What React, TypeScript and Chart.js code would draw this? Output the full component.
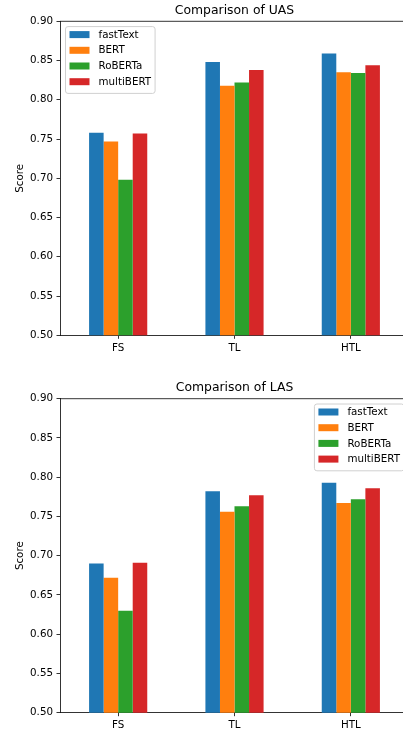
import React, { useEffect, useRef } from "react";
import { Chart, registerables } from "chart.js";

Chart.register(...registerables);

const categories = ["FS", "TL", "HTL"];
const models = ["fastText", "BERT", "RoBERTa", "multiBERT"];
const colors = ["#1f77b4", "#ff7f0e", "#2ca02c", "#d62728"];

const uasFastText = [0.758, 0.848, 0.859];
const uasBERT = [0.747, 0.818, 0.835];
const uasRoBERTa = [0.698, 0.822, 0.834];
const uasMultiBERT = [0.757, 0.838, 0.844];

const lasFastText = [0.69, 0.782, 0.793];
const lasBERT = [0.672, 0.756, 0.767];
const lasRoBERTa = [0.63, 0.763, 0.772];
const lasMultiBERT = [0.691, 0.777, 0.786];

const yTicks = [0.5, 0.55, 0.6, 0.65, 0.7, 0.75, 0.8, 0.85, 0.9];

const FONT = '"DejaVu Sans", "Liberation Sans", sans-serif';
const TICK_SIZE = 10.3;
const TITLE_SIZE = 12.4;

type Cfg = {
  title: string;
  series: number[][];
  legendSide: "left" | "right";
  padTop: number;
  xHeight: number;
  height: number;
};

function makeDecor(title: string, legendSide: "left" | "right") {
  return {
    id: "decor",
    afterDraw(chart: any) {
      const { ctx, chartArea: a } = chart;
      ctx.save();
      // top and right spines
      ctx.strokeStyle = "#000";
      ctx.lineWidth = 0.8;
      ctx.beginPath();
      ctx.moveTo(a.left, a.top);
      ctx.lineTo(a.right, a.top);
      ctx.lineTo(a.right, a.bottom);
      ctx.stroke();
      // title
      ctx.font = `${TITLE_SIZE}px ${FONT}`;
      ctx.fillStyle = "#000";
      ctx.textAlign = "center";
      ctx.textBaseline = "middle";
      ctx.fillText(title, (a.left + a.right) / 2, a.top - 11);
      // legend
      ctx.font = `${TICK_SIZE}px ${FONT}`;
      let maxW = 0;
      models.forEach((m) => {
        maxW = Math.max(maxW, ctx.measureText(m).width);
      });
      const pad = 4;
      const handleW = 20;
      const handleH = 7;
      const textPad = 9;
      const rowH = 15.7;
      const boxW = pad + handleW + textPad + maxW + pad;
      const boxH = pad + rowH * models.length - 5 + pad + 1;
      const bx = legendSide === "left" ? a.left + 5.5 : a.right - 5 - boxW;
      const by = a.top + 5.3;
      const r = 2.5;
      ctx.beginPath();
      ctx.moveTo(bx + r, by);
      ctx.lineTo(bx + boxW - r, by);
      ctx.arcTo(bx + boxW, by, bx + boxW, by + r, r);
      ctx.lineTo(bx + boxW, by + boxH - r);
      ctx.arcTo(bx + boxW, by + boxH, bx + boxW - r, by + boxH, r);
      ctx.lineTo(bx + r, by + boxH);
      ctx.arcTo(bx, by + boxH, bx, by + boxH - r, r);
      ctx.lineTo(bx, by + r);
      ctx.arcTo(bx, by, bx + r, by, r);
      ctx.closePath();
      ctx.fillStyle = "rgba(255,255,255,0.8)";
      ctx.fill();
      ctx.strokeStyle = "#d0d0d0";
      ctx.lineWidth = 1;
      ctx.stroke();
      ctx.textAlign = "left";
      ctx.textBaseline = "middle";
      models.forEach((m, i) => {
        const cy = by + pad + 4 + i * rowH;
        ctx.fillStyle = colors[i];
        ctx.fillRect(bx + pad, cy - handleH / 2, handleW, handleH);
        ctx.fillStyle = "#000";
        ctx.fillText(m, bx + pad + handleW + textPad, cy + 0.5);
      });
      ctx.restore();
    },
  };
}

function BarChart({ cfg }: { cfg: Cfg }) {
  const ref = useRef<HTMLCanvasElement | null>(null);
  useEffect(() => {
    if (!ref.current) return;
    const chart = new Chart(ref.current, {
      type: "bar",
      data: {
        labels: categories,
        datasets: models.map((m, i) => ({
          label: m,
          data: cfg.series[i],
          backgroundColor: colors[i],
          borderWidth: 0,
          categoryPercentage: 0.5,
          barPercentage: 1.0,
        })),
      },
      options: {
        animation: false,
        responsive: false,
        devicePixelRatio: 1,
        layout: { padding: { top: cfg.padTop, right: 3, left: 0, bottom: 0 } },
        plugins: {
          legend: { display: false },
          title: { display: false },
          tooltip: { enabled: false },
        },
        scales: {
          x: {
            grid: {
              display: true,
              offset: false,
              drawOnChartArea: false,
              drawTicks: true,
              tickLength: 3.5,
              color: "#000",
              lineWidth: 0.8,
            },
            border: { display: true, color: "#000", width: 0.8 },
            ticks: {
              color: "#000",
              font: { family: FONT, size: TICK_SIZE },
              padding: 3,
              maxRotation: 0,
            },
            afterFit: (s: any) => {
              s.height = cfg.xHeight;
            },
          },
          y: {
            min: 0.5,
            max: 0.9,
            afterBuildTicks: (s: any) => {
              s.ticks = yTicks.map((v) => ({ value: v }));
            },
            grid: {
              display: true,
              drawOnChartArea: false,
              drawTicks: true,
              tickLength: 3.5,
              color: "#000",
              lineWidth: 0.8,
            },
            border: { display: true, color: "#000", width: 0.8 },
            ticks: {
              color: "#000",
              font: { family: FONT, size: TICK_SIZE },
              padding: 3.5,
              callback: (v: any) => Number(v).toFixed(2),
            },
            title: {
              display: true,
              text: "Score",
              color: "#000",
              font: { family: FONT, size: TICK_SIZE },
              padding: { top: 14.5, bottom: 0 },
            },
            afterFit: (s: any) => {
              s.width = 60;
            },
          },
        },
      },
      plugins: [makeDecor(cfg.title, cfg.legendSide)],
    } as any);
    return () => chart.destroy();
  }, [cfg]);
  return (
    <canvas
      ref={ref}
      width={412}
      height={cfg.height}
      style={{ display: "block", width: 412, height: cfg.height }}
    />
  );
}

const uasCfg: Cfg = {
  title: "Comparison of UAS",
  series: [uasFastText, uasBERT, uasRoBERTa, uasMultiBERT],
  legendSide: "left",
  padTop: 21.3,
  xHeight: 30.7,
  height: 366,
};

const lasCfg: Cfg = {
  title: "Comparison of LAS",
  series: [lasFastText, lasBERT, lasRoBERTa, lasMultiBERT],
  legendSide: "right",
  padTop: 32.7,
  xHeight: 18.3,
  height: 365,
};

export default function App() {
  return (
    <div
      style={{
        position: "fixed",
        left: 0,
        top: 0,
        width: 403,
        height: 731,
        overflow: "hidden",
        background: "#fff",
      }}
    >
      <BarChart cfg={uasCfg} />
      <BarChart cfg={lasCfg} />
    </div>
  );
}
